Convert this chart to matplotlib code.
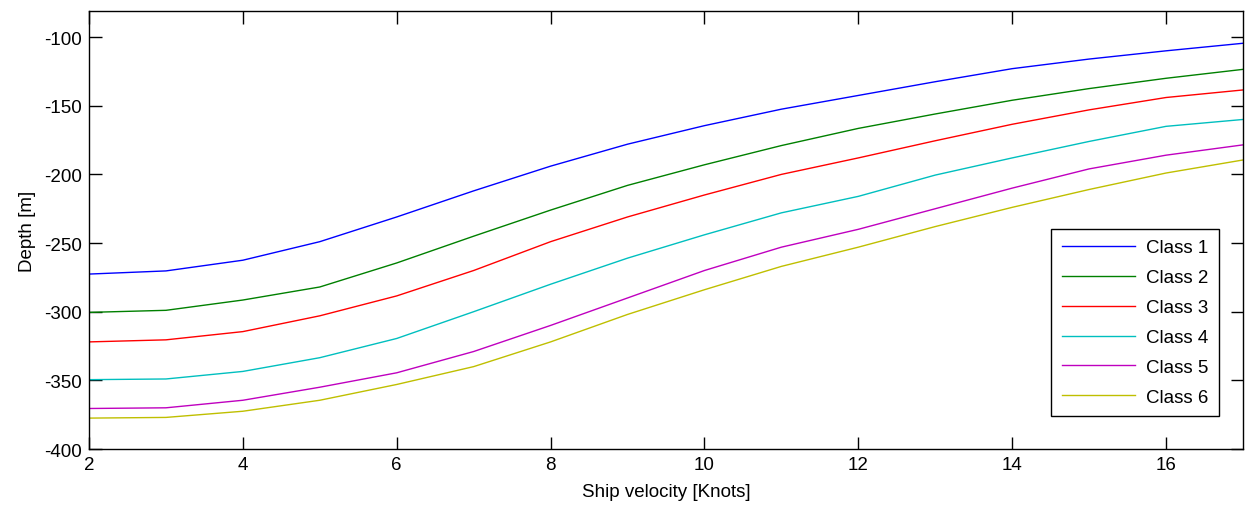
import numpy as np
import matplotlib
matplotlib.use("Agg")
import matplotlib.pyplot as plt

plt.rcParams['font.family'] = ['Liberation Sans', 'DejaVu Sans']
plt.rcParams['axes.unicode_minus'] = False

velocity = [2, 3, 4, 5, 6, 7, 8, 9, 10, 11, 12, 13, 14, 15, 16, 17]

class1 = [-272.6, -270.3, -262.5, -249.0, -231.0, -212.0, -194.0, -178.0,
          -164.5, -152.5, -142.5, -132.5, -123.0, -116.0, -110.0, -104.5]
class2 = [-300.5, -299.0, -291.5, -282.0, -264.5, -245.0, -226.0, -208.0,
          -193.0, -179.0, -166.5, -156.0, -146.0, -137.5, -130.0, -123.5]
class3 = [-322.0, -320.5, -314.5, -303.0, -288.5, -270.0, -249.0, -231.0,
          -215.0, -200.0, -188.0, -175.5, -163.5, -153.0, -144.0, -138.5]
class4 = [-349.5, -349.0, -343.5, -333.5, -319.5, -300.0, -280.0, -261.0,
          -244.0, -228.0, -216.0, -200.5, -188.0, -176.0, -165.0, -160.0]
class5 = [-370.5, -370.0, -364.5, -355.0, -344.5, -329.0, -310.0, -290.0,
          -270.0, -253.0, -240.0, -225.0, -210.0, -196.0, -186.0, -178.5]
class6 = [-377.5, -377.0, -372.5, -364.5, -353.0, -340.0, -322.0, -302.0,
          -284.0, -267.0, -253.0, -238.0, -224.0, -211.0, -199.0, -189.5]

labels = ['Class 1', 'Class 2', 'Class 3', 'Class 4', 'Class 5', 'Class 6']
colors = [(0, 0, 1), (0, 0.5, 0), (1, 0, 0), (0, 0.75, 0.75), (0.75, 0, 0.75), (0.75, 0.75, 0)]

fig = plt.figure(figsize=(12.46, 5.06), dpi=100)
ax = fig.add_axes([89 / 1246, 56 / 506, 1154 / 1246, 438 / 506])

for data, lab, col in zip([class1, class2, class3, class4, class5, class6], labels, colors):
    ax.plot(velocity, data, color=col, linewidth=1.0, label=lab)

ax.set_xlim(2, 17)
ax.set_ylim(-400, -81)
ax.set_xticks(np.arange(2, 17, 2))
ax.set_yticks(np.arange(-400, -99, 50))
ax.tick_params(direction='in', length=9, width=1, top=True, right=True,
               labelsize=13.5, pad=5)
for s in ax.spines.values():
    s.set_linewidth(1.0)

ax.set_xlabel('Ship velocity [Knots]', fontsize=13.5, labelpad=7)
ax.set_ylabel('Depth [m]', fontsize=13.5, labelpad=6)

leg = ax.legend(loc='lower right', bbox_to_anchor=(0.979, 0.075), borderaxespad=0,
                fancybox=False, framealpha=1, edgecolor='black', fontsize=13.5,
                handlelength=3.9, handletextpad=0.6, labelspacing=0.68, borderpad=0.55)
leg.get_frame().set_linewidth(1.0)

fig.savefig('out.png', dpi=100)
